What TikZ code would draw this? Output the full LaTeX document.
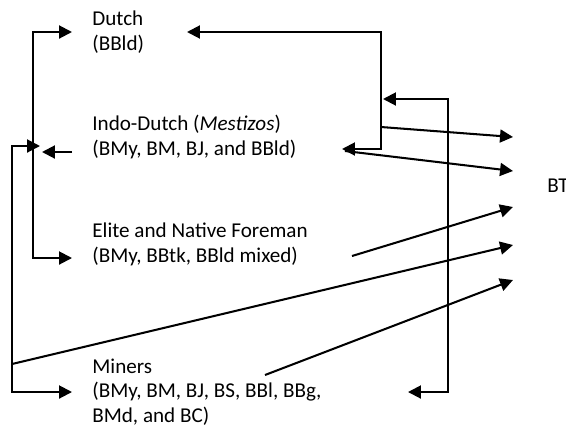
\documentclass[tikz,border=0pt]{standalone}
\usepackage{fontspec}
\setmainfont{Carlito}
\usetikzlibrary{arrows.meta}

\tikzset{
  lbl/.style={anchor=base west,inner sep=0pt,align=left,font=\fontsize{11.4}{13}\selectfont},
  link/.style={line width=1.1pt,-{Triangle[length=7pt,width=7pt]}},
  link2/.style={line width=1.1pt,{Triangle[length=7pt,width=7pt]}-{Triangle[length=7pt,width=7pt]}},
}

\begin{document}
\begin{tikzpicture}[x=0.54pt,y=-0.54pt]
\useasboundingbox (0,0) rectangle (566,426);
% Groups (placed at the baseline of their last line)
\node[lbl] (dutch) at (92,50) {Dutch\\(BBld)};
\node[lbl] (indo) at (92,155) {Indo-Dutch (\textit{Mestizos})\\(BMy, BM, BJ, and BBld)};
\node[lbl] (elite) at (92,262) {Elite and Native Foreman\\(BMy, BBtk, BBld mixed)};
\node[lbl] (miners) at (92,422) {Miners\\(BMy, BM, BJ, BS, BBl, BBg,\\BMd, and BC)};
\node[lbl] (bt) at (547,192) {BT};
% Spines and ends
\coordinate (spineO) at (12,0);
\coordinate (spineL) at (33,0);
\coordinate (spineR) at (381,0);
\coordinate (spineF) at (448,0);
\coordinate (dutchIn) at (72,32);
\coordinate (eliteIn) at (72,258);
\coordinate (minersIn) at (72,392);
\coordinate (indoJoin) at (40,146);
\coordinate (indoOut) at (72,152);
\coordinate (indoTip) at (42,152);
\coordinate (dutchOut) at (187,32);
\coordinate (indoBack) at (342,149);
\coordinate (rTip) at (383,99);
\coordinate (minersBack) at (408,392);
% Arrow ends at BT
\coordinate (bt1) at (513,137);
\coordinate (bt2) at (513,171);
\coordinate (bt3) at (513,207);
\coordinate (bt4) at (513,245);
\coordinate (bt5) at (513,280);
\coordinate (rFork) at (381,127);
\coordinate (indoFrom) at (345,151);
\coordinate (eliteFrom) at (352,256);
\coordinate (oFork) at (12,364);
\coordinate (minersFrom) at (265,375);
% Left brackets
\draw[link2] (eliteIn) -- (eliteIn -| spineL) |- (dutchIn);
\draw[link2] (minersIn) -- (minersIn -| spineO) |- (indoJoin);
\draw[link] (indoOut) -- (indoTip);
% Right brackets
\draw[link2] (dutchOut) -- (dutchOut -| spineR) |- (indoBack);
\draw[link2] (rTip) -- (rTip -| spineF) |- (minersBack);
% Into BT
\draw[link] (rFork) -- (bt1);
\draw[link] (indoFrom) -- (bt2);
\draw[link] (eliteFrom) -- (bt3);
\draw[link] (oFork) -- (bt4);
\draw[link] (minersFrom) -- (bt5);
\end{tikzpicture}
\end{document}
